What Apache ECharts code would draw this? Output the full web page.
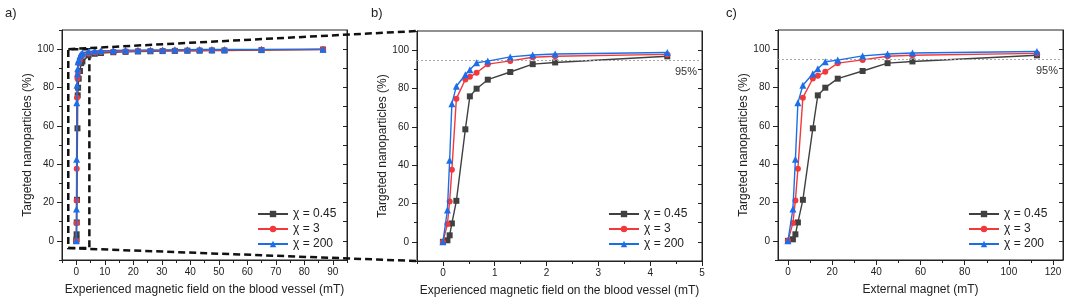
<!DOCTYPE html>
<html>
<head>
<meta charset="utf-8">
<script src="https://cdn.jsdelivr.net/npm/echarts@6/dist/echarts.min.js"></script>
<style>
html,body{margin:0;padding:0;background:#fff;}
#chart{width:1065px;height:300px;}
</style>
</head>
<body>
<div id="chart"></div>
<script>
// field values (mT) on the blood vessel, first 13 points are the zoomed set of panel b
var xB = [0, 0.087, 0.13, 0.173, 0.26, 0.433, 0.52, 0.65, 0.866, 1.3, 1.733, 2.166, 4.33];
var xAextra = [6.5, 8.66, 13, 17.3, 21.65, 26, 30.3, 34.6, 39, 43.3, 47.6, 52, 65, 86.6];
var xA = xB.concat(xAextra);
// external magnet field (mT)
var xC = [0, 2.25, 3.38, 4.51, 6.76, 11.27, 13.52, 16.9, 22.54, 33.8, 45.1, 56.35, 112.7];

// targeted nanoparticles (%)
var yLow = [0, 0.8, 3.4, 9.6, 21.4, 58.7, 75.9, 79.9, 84.6, 88.6, 92.7, 93.6, 96.8];
var yMid = [0, 9.3, 21.1, 37.6, 74.7, 84.7, 86.1, 88.2, 92.7, 94.4, 96.3, 96.8, 97.8];
var yHigh = [0, 16.6, 42.6, 72.0, 81.2, 87.2, 89.8, 93.4, 94.3, 96.5, 97.5, 98.0, 98.8];
var yLowExtra = [97.6, 98.0, 98.4, 98.6, 98.8, 98.9, 99.0, 99.1, 99.2, 99.2, 99.3, 99.3, 99.5, 99.8];
var yMidExtra = [98.2, 98.5, 98.7, 98.9, 99.0, 99.1, 99.2, 99.3, 99.3, 99.4, 99.4, 99.5, 99.7, 99.9];
var yHighExtra = [99.0, 99.2, 99.3, 99.4, 99.5, 99.6, 99.6, 99.7, 99.7, 99.8, 99.8, 99.8, 99.9, 100];

var names = ['χ = 0.45', 'χ = 3', 'χ = 200'];
var colors = ['#404040', '#f2383a', '#1c6ee8'];
var symbols = ['rect', 'circle', 'triangle'];
var symbolSizes = [6, 6, 7];

var yTicks = [0, 20, 40, 60, 80, 100];
var yMinor = [-10, 10, 30, 50, 70, 90, 110];
var yAll = [0, 10, 20, 30, 40, 50, 60, 70, 80, 90, 100];
var xTicksA = [0, 10, 20, 30, 40, 50, 60, 70, 80, 90];
var xMinorA = [-5, 5, 15, 25, 35, 45, 55, 65, 75, 85, 95];
var xTicksB = [0, 1, 2, 3, 4, 5];
var xMinorB = [-0.5, 0.5, 1.5, 2.5, 3.5, 4.5];
var xTicksC = [0, 20, 40, 60, 80, 100, 120];
var xMinorC = [10, 30, 50, 70, 90, 110];

// zoom box drawn in panel a: [xmin, ymin, xmax, ymax]
var zoomBox = [-2.8, -3.8, 4.6, 100];

var font = 'Liberation Sans, Arial, sans-serif';
var ink = '#222';

var panels = [
	{left: 62, top: 30, xmin: -5, xmax: 95, ticks: xTicksA, minor: xMinorA, name: 'Experienced magnetic field on the blood vessel (mT)', legendLeft: 252, label: 'a)', labelLeft: 0},
	{left: 417, top: 31, xmin: -0.5, xmax: 5, ticks: xTicksB, minor: xMinorB, name: 'Experienced magnetic field on the blood vessel (mT)', legendLeft: 603, label: 'b)', labelLeft: 366},
	{left: 778, top: 30, xmin: -4.5, xmax: 124.5, ticks: xTicksC, minor: xMinorC, name: 'External magnet (mT)', legendLeft: 963, label: 'c)', labelLeft: 721}
];

var grids = [], xAxes = [], yAxes = [], legends = [], titles = [];
panels.forEach(function (p, i) {
	grids.push({left: p.left, top: p.top, width: 285, height: 230, show: true, borderColor: ink, borderWidth: 1, backgroundColor: 'transparent', outerBoundsMode: 'none'});
	xAxes.push({
		gridIndex: i, type: 'value', min: p.xmin, max: p.xmax, position: 'bottom',
		axisLine: {show: true, onZero: false, lineStyle: {color: ink}},
		axisTick: {customValues: p.ticks, length: 5, lineStyle: {color: ink}},
		axisLabel: {customValues: p.ticks, fontSize: 10, color: ink, margin: 7, fontFamily: font},
		splitLine: {show: false},
		name: p.name, nameLocation: 'middle', nameGap: 24,
		nameTextStyle: {fontSize: 12, color: ink, fontFamily: font}
	});
	xAxes.push({
		gridIndex: i, type: 'value', min: p.xmin, max: p.xmax, position: 'bottom',
		axisLine: {show: false, onZero: false},
		axisTick: {customValues: p.minor, length: 3, lineStyle: {color: ink}},
		axisLabel: {show: false}, splitLine: {show: false}
	});
	yAxes.push({
		gridIndex: i, type: 'value', min: -10, max: 110, position: 'left',
		axisLine: {show: true, onZero: false, lineStyle: {color: ink}},
		axisTick: {customValues: yTicks, length: 5, lineStyle: {color: ink}},
		axisLabel: {customValues: yTicks, fontSize: 10, color: ink, margin: 8, fontFamily: font},
		splitLine: {show: false},
		name: 'Targeted nanoparticles (%)', nameLocation: 'middle', nameGap: 27,
		nameTextStyle: {fontSize: 12, color: ink, fontFamily: font}
	});
	yAxes.push({
		gridIndex: i, type: 'value', min: -10, max: 110, position: 'left',
		axisLine: {show: false, onZero: false},
		axisTick: {customValues: yMinor, length: 3, lineStyle: {color: ink}},
		axisLabel: {show: false}, splitLine: {show: false}
	});
	yAxes.push({
		gridIndex: i, type: 'value', min: -10, max: 110, position: 'right',
		axisLine: {show: true, onZero: false, lineStyle: {color: ink}},
		axisTick: {customValues: yAll, inside: true, length: 4, lineStyle: {color: ink}},
		axisLabel: {show: false}, splitLine: {show: false}
	});
	legends.push({
		left: p.legendLeft, top: 203, orient: 'vertical',
		itemWidth: 30, itemHeight: 8, itemGap: 3,
		textStyle: {fontSize: 12, color: ink, fontFamily: font},
		data: names
	});
	titles.push({text: p.label, left: p.labelLeft, top: 2, textStyle: {fontSize: 13, fontWeight: 'normal', color: ink, fontFamily: font}});
});

function zip(xs, ys) {
	return xs.map(function (x, k) { return [x, ys[k]]; });
}

var ySets = [
	[yLow.concat(yLowExtra), yMid.concat(yMidExtra), yHigh.concat(yHighExtra)],
	[yLow, yMid, yHigh],
	[yLow, yMid, yHigh]
];
var xSets = [xA, xB, xC];

var series = [];
[0, 1, 2].forEach(function (p) {
	[0, 1, 2].forEach(function (s) {
		var item = {
			name: names[s], type: 'line',
			xAxisIndex: p * 2, yAxisIndex: p * 3,
			data: zip(xSets[p], ySets[p][s]),
			symbol: symbols[s], symbolSize: symbolSizes[s],
			color: colors[s],
			lineStyle: {width: 1.4, color: colors[s]},
			itemStyle: {color: colors[s]},
			emphasis: {disabled: true},
			z: 3 + s
		};
		if (p > 0 && s === 0) {
			item.markLine = {
				silent: true, symbol: 'none',
				lineStyle: {type: [2, 2], color: '#aaa', width: 1},
				label: {position: 'insideEndBottom', formatter: '95%', color: '#333', fontSize: 11, fontFamily: font, distance: [5, 7]},
				data: [{yAxis: 95}]
			};
		}
		if (p === 0 && s === 0) {
			item.markArea = {
				silent: true,
				itemStyle: {color: 'rgba(0,0,0,0)', borderColor: '#111', borderWidth: 2.5, borderType: [7, 4]},
				data: [[{xAxis: zoomBox[0], yAxis: zoomBox[1]}, {xAxis: zoomBox[2], yAxis: zoomBox[3]}]]
			};
		}
		series.push(item);
	});
});

var myChart = echarts.init(document.getElementById('chart'));
myChart.setOption({
	animation: false,
	backgroundColor: '#fff',
	textStyle: {fontFamily: font},
	title: titles,
	grid: grids,
	xAxis: xAxes,
	yAxis: yAxes,
	legend: legends,
	series: series
});

// connector lines from the zoom box in panel a to the frame of panel b
var tl = myChart.convertToPixel({xAxisIndex: 0, yAxisIndex: 0}, [zoomBox[0], zoomBox[3]]);
var bl = myChart.convertToPixel({xAxisIndex: 0, yAxisIndex: 0}, [zoomBox[0], zoomBox[1]]);
var bTop = myChart.convertToPixel({xAxisIndex: 2, yAxisIndex: 3}, [panels[1].xmin, 110]);
var bBot = myChart.convertToPixel({xAxisIndex: 2, yAxisIndex: 3}, [panels[1].xmin, -10]);
var dash = {stroke: '#111', lineWidth: 2.5, lineDash: [7, 4]};
myChart.setOption({
	graphic: [
		{type: 'line', z: 50, silent: true, shape: {x1: tl[0], y1: tl[1], x2: bTop[0], y2: bTop[1]}, style: dash},
		{type: 'line', z: 50, silent: true, shape: {x1: bl[0], y1: bl[1], x2: bBot[0], y2: bBot[1]}, style: dash}
	]
});
</script>
</body>
</html>
